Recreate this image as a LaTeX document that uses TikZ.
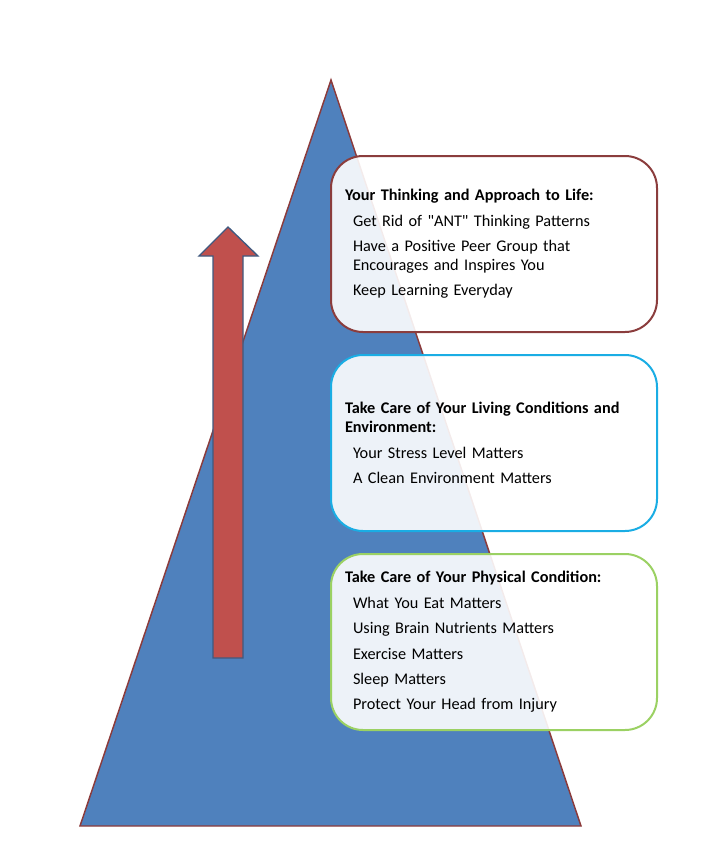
\documentclass[tikz,border=0pt]{standalone}
\usepackage{fontspec}
\setmainfont{Carlito}[Ligatures=TeXOff]
\usetikzlibrary{positioning}

\definecolor{pyramidblue}{HTML}{4F81BD}
\definecolor{pyramidedge}{HTML}{8C3B3B}
\definecolor{arrowred}{HTML}{C0504D}
\definecolor{arrowedge}{HTML}{3F5A80}
\definecolor{thinkedge}{HTML}{8B3D3D}
\definecolor{livingedge}{HTML}{1AADE4}
\definecolor{physicaledge}{HTML}{9BD163}

\newcommand{\boxitem}[1]{\hspace*{6pt}#1}

\begin{document}
\begin{tikzpicture}
            [
                x=0.75pt, y=-0.75pt,
                infobox/.style={draw, line width=1.5pt, rounded corners=24pt,
                    fill=white, fill opacity=0.9, text opacity=1,
                    text width=223.5pt, inner xsep=10.5pt, inner ysep=0pt,
                    minimum height=132pt, align=left,
                    font=\fontsize{12.2}{14.25}\selectfont}
            ]
            \useasboundingbox (0,0) rectangle (713,842);
            % pyramid
            \draw[pyramidedge, line width=1.1pt, fill=pyramidblue]
                (331,80) -- (581,826) -- (80,826) -- cycle;
            % upward arrow
            \draw[arrowedge, line width=1pt, fill=arrowred]
                (228,227) -- (258,256) -- (243,256) -- (243,658)
                -- (213,658) -- (213,256) -- (199,256) -- cycle;
            % boxes
            \node[infobox, draw=thinkedge, anchor=north west] (thinking) at (330,155) {
                \textbf{Your Thinking and Approach to Life:}\\[4.8pt]
                \boxitem{Get Rid of "ANT" Thinking Patterns}\\[4.8pt]
                \boxitem{Have a Positive Peer Group that}\\
                \boxitem{Encourages and Inspires You}\\[4.8pt]
                \boxitem{Keep Learning Everyday}
            };
            \node[infobox, draw=livingedge, below=15.75pt of thinking] (living) {
                \textbf{Take Care of Your Living Conditions and}\\
                \textbf{Environment:}\\[4.8pt]
                \boxitem{Your Stress Level Matters}\\[4.8pt]
                \boxitem{A Clean Environment Matters}
            };
            \node[infobox, draw=physicaledge, below=15.75pt of living] (physical) {
                \textbf{Take Care of Your Physical Condition:}\\[4.8pt]
                \boxitem{What You Eat Matters}\\[4.8pt]
                \boxitem{Using Brain Nutrients Matters}\\[4.8pt]
                \boxitem{Exercise Matters}\\[4.8pt]
                \boxitem{Sleep Matters}\\[4.8pt]
                \boxitem{Protect Your Head from Injury}
            };
\end{tikzpicture}
\end{document}
